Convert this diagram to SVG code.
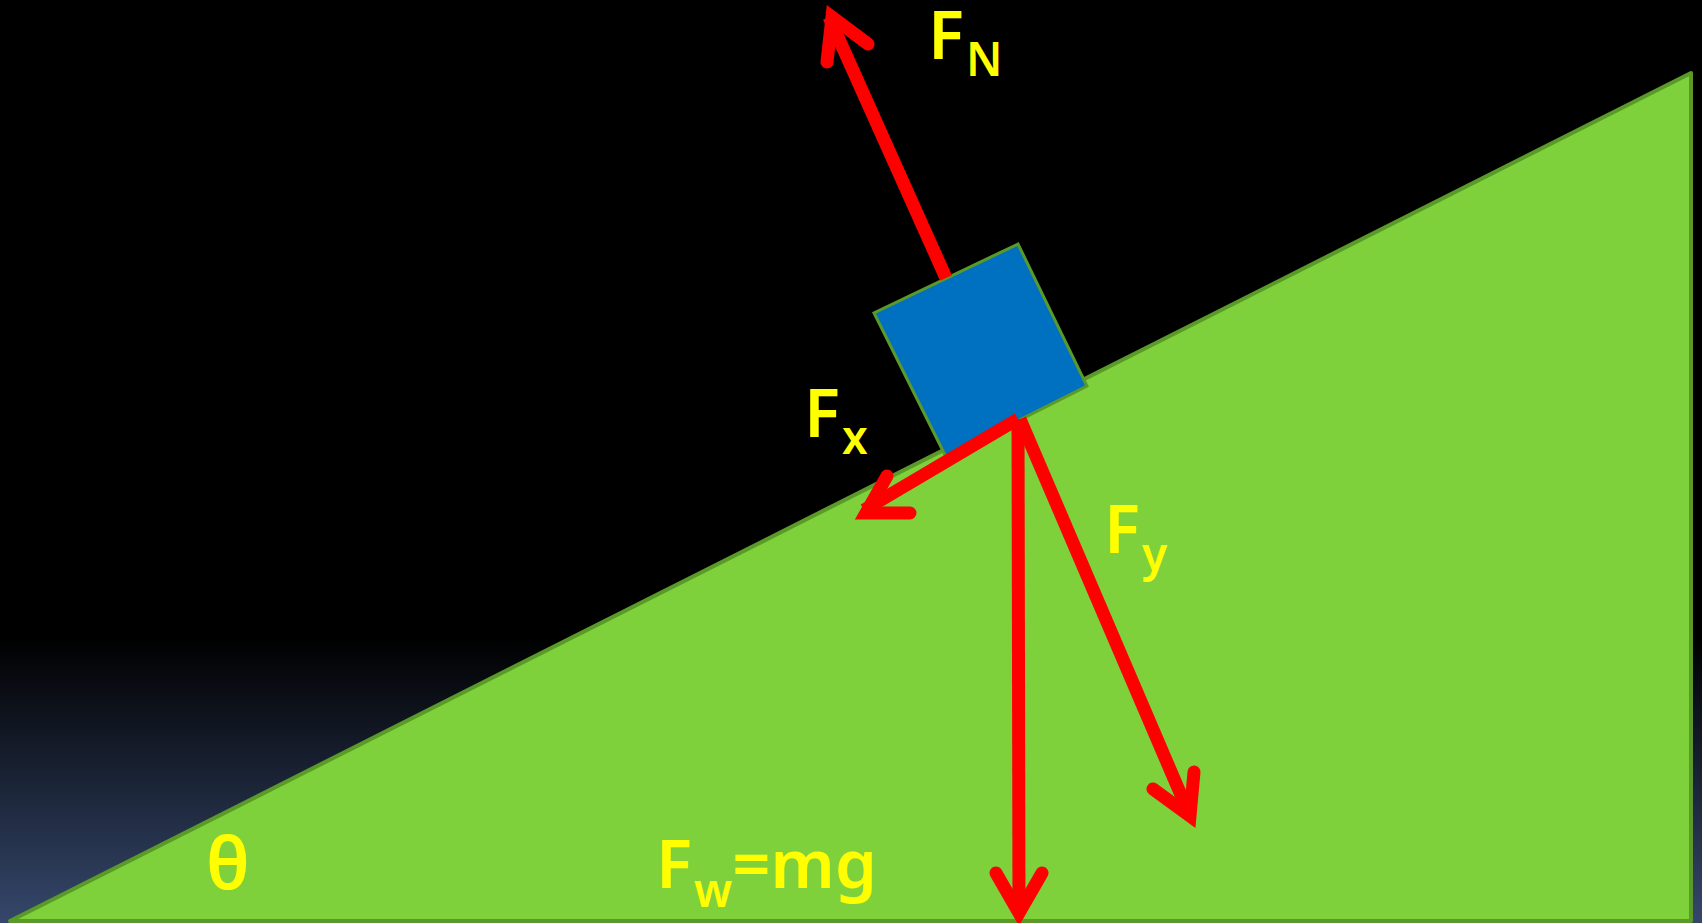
<svg xmlns="http://www.w3.org/2000/svg" width="1702" height="923" viewBox="0 0 1702 923">
<defs>
<linearGradient id="bg" x1="0" y1="0" x2="0" y2="1">
<stop offset="0" stop-color="#000000"/>
<stop offset="0.69" stop-color="#000000"/>
<stop offset="1" stop-color="#35476b"/>
</linearGradient>
<style>
.force{fill:none;stroke:#ff0000;stroke-width:13;stroke-linecap:round;stroke-linejoin:miter;stroke-miterlimit:10}
.lbl{font-family:"Noto Sans","DejaVu Sans",sans-serif;font-weight:600;fill:#ffff00;font-size:67px}
.sub{font-size:46px}
</style>
</defs>
<rect x="0" y="0" width="1702" height="923" fill="url(#bg)"/>
<g id="incline">
<polygon points="10,921 1691,73 1691,921" fill="#7fd13b" stroke="#5a9a28" stroke-width="4" stroke-linejoin="round"/>
</g>
<g id="block">
<polygon points="1018,244 874,313 946,457 1087,386" fill="#0070c0" stroke="#5a9a28" stroke-width="3"/>
</g>
<g id="connectors">
<line class="force" x1="946" y1="278" x2="829" y2="17" style="stroke-linecap:butt"/>
<polyline class="force" points="827,62 832,17 868,44"/>
<line class="force" x1="1018" y1="419" x2="864" y2="510" style="stroke-linecap:butt"/>
<polyline class="force" points="887,476 866,513 910,513"/>
<line class="force" x1="1018" y1="419" x2="1019" y2="912" style="stroke-linecap:butt"/>
<polyline class="force" points="996,873 1019,913 1042,873"/>
<line class="force" x1="1020" y1="419" x2="1190" y2="816" style="stroke-linecap:butt"/>
<polyline class="force" points="1153,789 1190,816 1194,772"/>
</g>
<g id="labels">
<text class="lbl" x="928" y="59">F<tspan class="sub" dx="2" dy="17">N</tspan></text>
<text class="lbl" x="804" y="437">F<tspan class="sub" dx="2" dy="17">x</tspan></text>
<text class="lbl" x="1104" y="553">F<tspan class="sub" dx="2" dy="18">y</tspan></text>
<text class="lbl" x="656" y="888">F<tspan class="sub" dx="2" dy="19">w</tspan><tspan dy="-19">=mg</tspan></text>
<text class="lbl" x="206" y="889" style="font-size:72px;font-weight:600">θ</text>
</g>
</svg>
